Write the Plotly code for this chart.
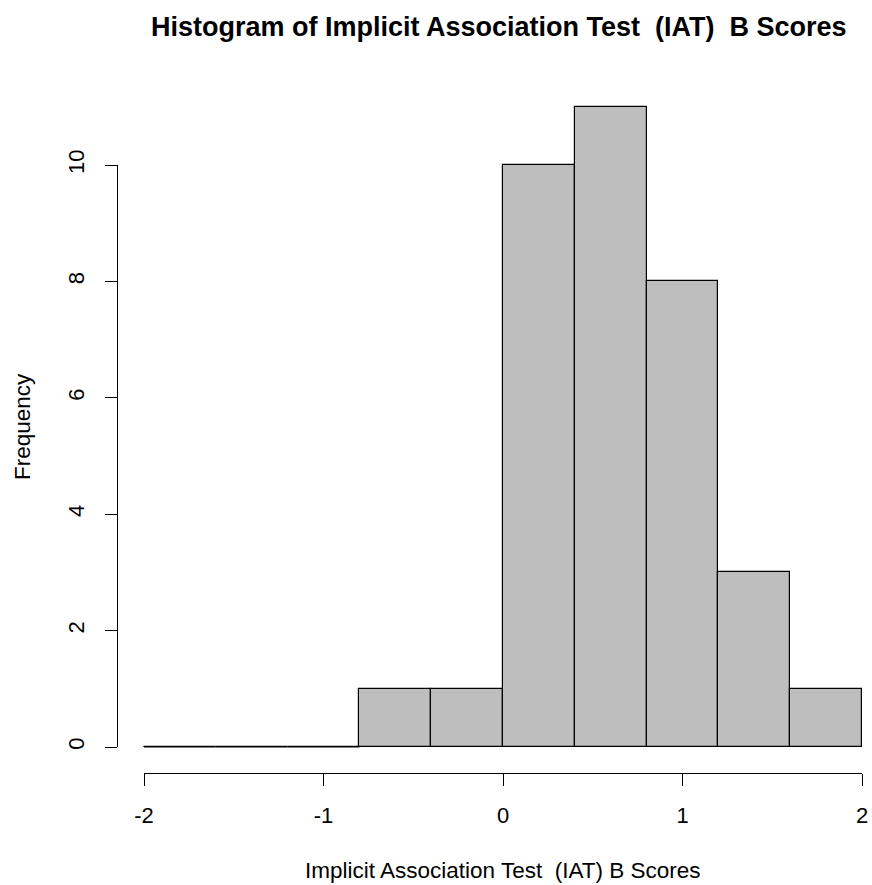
import plotly.graph_objects as go

# ---- data ----
bin_edges = [-2.0, -1.6, -1.2, -0.8, -0.4, 0.0, 0.4, 0.8, 1.2, 1.6, 2.0]
counts = [0, 0, 0, 1, 1, 10, 11, 8, 3, 1]
x_ticks = [-2, -1, 0, 1, 2]
y_ticks = [0, 2, 4, 6, 8, 10]
title = "Histogram of Implicit Association Test\u00a0 (IAT)\u00a0 B Scores"
x_title = "Implicit Association Test\u00a0 (IAT) B Scores"
y_title = "Frequency"

# ---- geometry (pixels) ----
W, H = 872, 885
X0PX, X1PX = 144, 862      # -2 and 2
Y0PX, Y10PX = 747, 165     # 0 and 10
xs = (X1PX - X0PX) / 4.0
ys = (Y0PX - Y10PX) / 10.0

def px(p):
    return p / W

def py(p):
    return 1 - p / H

def xval(p):
    return -2 + (p - X0PX) / xs

def yval(p):
    return (Y0PX - p) / ys

mids = [(a + b) / 2 for a, b in zip(bin_edges[:-1], bin_edges[1:])]
widths = [b - a for a, b in zip(bin_edges[:-1], bin_edges[1:])]

fig = go.Figure()
fig.add_trace(go.Bar(
    x=mids, y=counts, width=widths,
    marker=dict(color="#BEBEBE", line=dict(color="black", width=1.2)),
    hoverinfo="skip", showlegend=False,
))
# zero-height bins drawn as flat lines at 0
zx, zy = [], []
for i, c in enumerate(counts):
    if c == 0:
        zx += [bin_edges[i], bin_edges[i + 1], None]
        zy += [0, 0, None]
fig.add_trace(go.Scatter(x=zx, y=zy, mode="lines",
                         line=dict(color="black", width=1.2),
                         hoverinfo="skip", showlegend=False))
# invisible trace for the visible axes subplot
fig.add_trace(go.Scatter(x=[None], y=[None], xaxis="x2", yaxis="y2",
                         showlegend=False, hoverinfo="skip"))

font = dict(family="Liberation Sans, Arial, sans-serif", color="black")

fig.update_layout(
    template="none",
    width=W, height=H,
    margin=dict(l=0, r=0, t=0, b=0, pad=0, autoexpand=False),
    paper_bgcolor="white", plot_bgcolor="rgba(0,0,0,0)",
    font=dict(**font, size=22),
    bargap=0,
    xaxis=dict(domain=[px(125), px(871)], range=[xval(125), xval(871)],
               visible=False, fixedrange=True, automargin=False),
    yaxis=dict(domain=[py(760), py(90)], range=[yval(760), yval(90)],
               visible=False, fixedrange=True, automargin=False),
    xaxis2=dict(domain=[px(X0PX), px(X1PX)], range=[-2, 2],
                anchor="free", position=py(773), automargin=False,
                showline=True, linecolor="black", linewidth=1.2,
                ticks="outside", ticklen=12, tickwidth=1.2, tickcolor="black",
                tickvals=x_ticks, ticktext=[str(v) for v in x_ticks],
                showgrid=False, zeroline=False,
                tickfont=dict(**font, size=22), ticklabelstandoff=10),
    yaxis2=dict(domain=[py(Y0PX), py(Y10PX)], range=[0, 10],
                anchor="free", position=px(117), automargin=False,
                showline=True, linecolor="black", linewidth=1.2,
                ticks="outside", ticklen=12, tickwidth=1.2, tickcolor="black",
                tickvals=y_ticks, ticktext=[str(v) for v in y_ticks],
                tickangle=-90, showgrid=False, zeroline=False,
                tickfont=dict(**font, size=22), ticklabelstandoff=12),
    annotations=[
        dict(text="<b>" + title + "</b>", x=px(499), y=py(27), xref="paper", yref="paper",
             xanchor="center", yanchor="middle", showarrow=False,
             font=dict(**font, size=27)),
        dict(text=x_title, x=px(503), y=py(870), xref="paper", yref="paper",
             xanchor="center", yanchor="middle", showarrow=False,
             font=dict(**font, size=22.5)),
        dict(text=y_title, x=px(22), y=py(427), xref="paper", yref="paper",
             xanchor="center", yanchor="middle", showarrow=False, textangle=-90,
             font=dict(**font, size=22.5)),
    ],
)

fig.write_html("out.html",
               post_script="document.body.style.margin='0';"
                           "document.body.style.overflow='hidden';")
